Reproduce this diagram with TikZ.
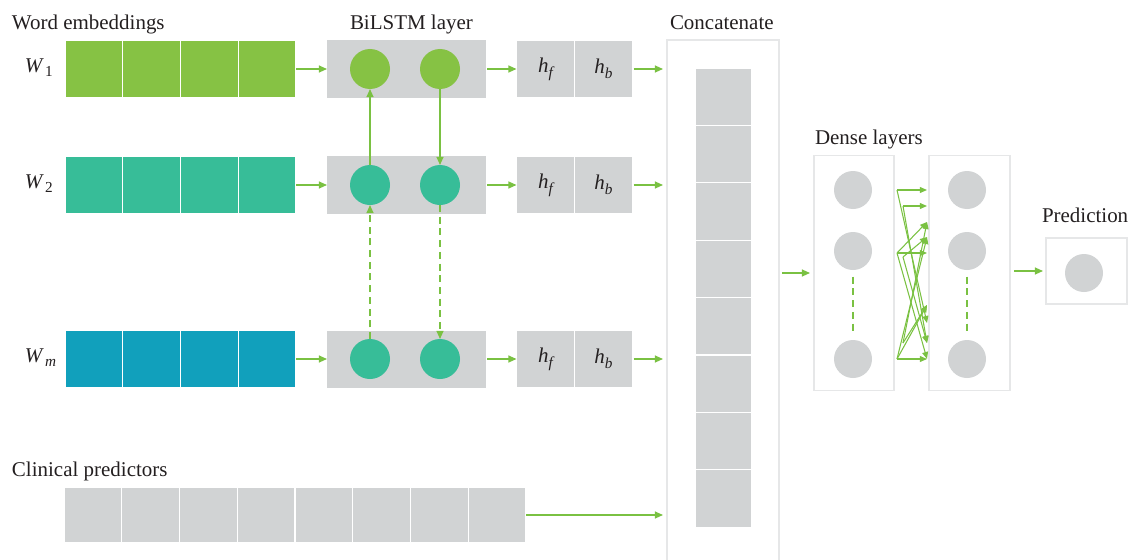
\documentclass[tikz,border=0pt]{standalone}
\usepackage{fontspec}
\setmainfont{Liberation Serif}
\usetikzlibrary{arrows.meta,calc}
\definecolor{gA}{HTML}{86C244}
\definecolor{gB}{HTML}{37BD98}
\definecolor{gC}{HTML}{11A0BC}
\definecolor{cellgray}{HTML}{D1D3D4}
\definecolor{arrowgreen}{HTML}{7AC142}
\definecolor{framegray}{HTML}{E6E7E8}
\definecolor{txt}{HTML}{231F20}
\newcommand{\lowsub}[1]{\raisebox{-0.5ex}{\fontsize{13}{13}\selectfont #1}}
\begin{document}
\begin{tikzpicture}[x=0.03cm,y=-0.03cm,
 every node/.style={inner sep=0pt, outer sep=0pt},
 lbl/.style={font=\fontsize{17.9}{20}\selectfont, anchor=base west, text=txt},
 cell/.style={draw=white, line width=0.9pt, minimum width=1.7325cm, minimum height=1.71cm,
   font=\fontsize{17.9}{20}\selectfont, text=txt},
 graybox/.style={fill=cellgray, minimum height=1.71cm},
 frame/.style={draw=framegray, line width=0.9pt, fill=white},
 bcirc/.style={circle, minimum size=1.2cm},
 dcirc/.style={circle, fill=cellgray, minimum size=1.14cm},
 ar/.style={draw=arrowgreen, line width=1.2pt, -{Triangle[length=7pt,width=6pt]}},
 dl/.style={draw=arrowgreen, line width=1.2pt, dash pattern=on 6pt off 4pt},
]
\useasboundingbox (0,0) rectangle (1135,560);
\clip (0,0) rectangle (1135,560);

% titles
\node[lbl] (tw) at (12,29) {Word embeddings};
\node[lbl] (tb) at (350,29) {BiLSTM layer};
\node[lbl] (tc) at (670,29) {Concatenate};
\node[lbl] (td) at (815,144) {Dense layers};
\node[lbl] (tp) at (1042,222) {Prediction};
\node[lbl] (tcp) at (12,476) {Clinical predictors};

% concatenate frame
\node[frame, minimum width=3.36cm, minimum height=15.9cm] (cc) at (723,305) {};
\foreach \k in {1,...,8} {
  \node[cell, fill=cellgray, minimum width=1.71cm, minimum height=1.722cm] (cc\k) at (723.5,{96.7+57.4*(\k-1)}) {};
}

% rows
\foreach \r/\y/\c/\cc/\wl in {1/69/gA/gA/1, 2/185/gB/gB/2, m/359/gC/gB/\itshape m} {
  \node[lbl] (w\r) at (25,{\y+3}) {\textit{W}\kern1pt\lowsub{\wl}};
  \foreach \k in {1,...,4} {
    \node[cell, fill=\c] (e\r-\k) at ({93.875+57.75*(\k-1)},\y) {};
  }
  \node[graybox, minimum width=4.77cm] (b\r) at (406.5,\y) {};
  \node[bcirc, fill=\cc] (cl\r) at (370,\y) {};
  \node[bcirc, fill=\cc] (cr\r) at (440,\y) {};
  \node[cell, fill=cellgray, minimum width=1.74cm] (hf\r) at (545.5,\y) {\textit{h}\lowsub{\itshape f}};
  \node[cell, fill=cellgray, minimum width=1.74cm] (hb\r) at (603.5,\y) {\textit{h}\lowsub{\itshape b}};
  \draw[ar] (e\r-4.east) -- (b\r.west);
  \draw[ar, shorten <=1pt] (b\r.east) -- (hf\r.west);
  \draw[ar, shorten <=1pt, shorten >=0.12cm] (hb\r.east) -- (hb\r.east -| cc.west);
}

% vertical BiLSTM connections
\draw[ar] (cl2.north) -- (cl1.south);
\draw[ar] (cr1.south) -- (cr2.north);
\draw[ar, dl] (clm.north) -- (cl2.south);
\draw[ar, dl] (cr2.south) -- (crm.north);

% clinical predictors
\foreach \k in {1,...,8} {
  \node[cell, fill=cellgray, minimum height=1.65cm] (cp\k) at ({92.875+57.75*(\k-1)},515) {};
}
\draw[ar, shorten >=0.12cm] (cp8.east) -- (cp8.east -| cc.west);

% dense layers
\node[frame, minimum width=2.4cm, minimum height=7.05cm] (dA) at (854,273) {};
\node[frame, minimum width=2.43cm, minimum height=7.05cm] (dB) at (969.5,273) {};
\foreach \i/\y in {1/190,2/251,3/359} {
  \node[dcirc] (dA\i) at (853,\y) {};
  \node[dcirc] (dB\i) at (967,\y) {};
}
\draw[dl, shorten <=0.2cm, shorten >=0.2cm] (dA2.south) -- (dA3.north);
\draw[dl, shorten <=0.2cm, shorten >=0.2cm] (dB2.south) -- (dB3.north);

\coordinate (sA) at (897,190);
\coordinate (sB) at (903,206);
\coordinate (sC) at (897,253);
\coordinate (sD) at (903,257);
\coordinate (sE) at (897,359);
\coordinate (sF) at (903,343);
\foreach \n/\y in {1/190,2/206,3/222,4/237,5/253,6/305,7/323,8/343,9/359} {
  \coordinate (t\n) at (927,\y);
}
\foreach \s/\t in {A/1,A/7,B/2,B/8,C/5,C/3,C/9,D/4,D/8,E/9,E/4,E/6,F/6,F/3} {
  \draw[ar, line width=0.9pt, -{Triangle[length=6pt,width=5pt]}] (s\s) -- (t\t);
}

% prediction
\node[frame, minimum width=2.43cm, minimum height=1.98cm] (pb) at (1086.5,271) {};
\node[dcirc] (pc) at (1084,273) {};

\draw[ar, shorten <=0.09cm, shorten >=0.12cm] (cc.east |- dA.west) -- (dA.west);
\draw[ar, shorten <=0.12cm, shorten >=0.09cm] (dB.east |- pb.west) -- (pb.west);
\end{tikzpicture}
\end{document}
